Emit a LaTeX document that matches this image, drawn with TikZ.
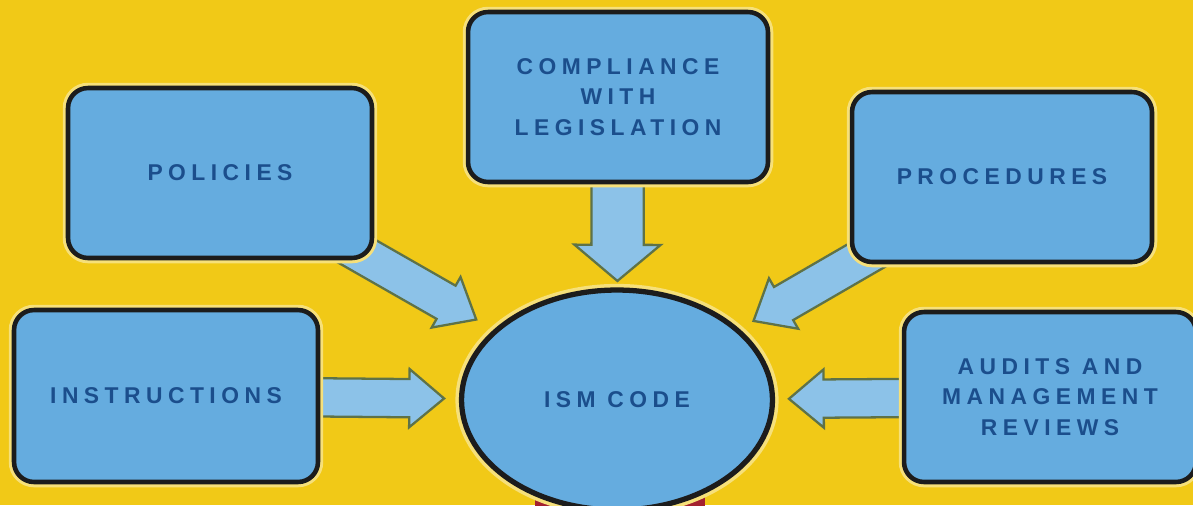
\documentclass[tikz,border=0pt]{standalone}
\usepackage{fontspec}
\usepackage{tikz}
\usetikzlibrary{arrows.meta,positioning,calc,shapes.geometric,shapes.arrows}
\newfontfamily\boxfont[LetterSpace=24]{Liberation Sans}
\definecolor{bgyellow}{HTML}{F1C917}
\definecolor{halo}{HTML}{F6E07A}
\definecolor{boxblue}{HTML}{65ACDF}
\definecolor{inkblue}{HTML}{1B4E8C}
\definecolor{edge}{HTML}{1C1C1C}
\definecolor{arrowfill}{HTML}{8CC2E8}
\definecolor{arrowedge}{HTML}{5E7248}
\definecolor{basered}{HTML}{A3212F}
\pgfdeclarelayer{back}
\pgfsetlayers{back,main}
\tikzset{
  topic/.style={draw=edge,fill=boxblue,line width=2.6pt,rounded corners=0.4cm,
    preaction={draw=halo,line width=6pt},
    minimum width=6cm,minimum height=3.4cm,align=center,text=inkblue,
    font=\boxfont\bfseries\fontsize{13}{17.5}\selectfont},
  core/.style={ellipse,draw=edge,fill=boxblue,line width=3pt,
    preaction={draw=halo,line width=7pt},
    minimum width=6.22cm,minimum height=4.4cm,align=center,text=inkblue,
    font=\boxfont\bfseries\fontsize{13}{17.5}\selectfont},
  barrow/.style={single arrow,draw=arrowedge,fill=arrowfill,line width=1.3pt,
    inner sep=0pt,minimum width=0pt,single arrow head extend=0.2cm,
    single arrow tip angle=80,text height=0.72cm,text depth=0pt,
    anchor=tail,sloped,allow upside down}
}

\begin{document}
\begin{tikzpicture}[x=0.02cm,y=-0.02cm]
  \useasboundingbox (0,0) rectangle (1193,505);
  \begin{pgfonlayer}{back}
    \fill[bgyellow] (0,0) rectangle (1193,505);
    \fill[basered] (535,488) rectangle (705,510);
  \end{pgfonlayer}
  % the five sources round the code
  \node[topic] (comp) at (618,97) {COMPLIANCE\\WITH\\LEGISLATION};
  \node[topic,minimum width=6.08cm] (pol) at (220,173) {POLICIES};
  \node[topic] (proc) at (1002,177) {PROCEDURES};
  \node[topic,minimum width=6.08cm,minimum height=3.44cm] (ins) at (166,396) {INSTRUCTIONS};
  \node[topic,minimum width=5.84cm] (aud) at (1050,397) {AUDITS AND\\MANAGEMENT\\REVIEWS};
  \node[core] (ism) at (617,400) {ISM CODE};
  % block arrows into the ellipse
  \begin{pgfonlayer}{back}
    \path (comp.center) -- (ism.center)
      node[barrow,pos=0.28,minimum height=1.96cm,text height=1.0cm,
        single arrow head extend=0.34cm,single arrow tip angle=100] (a1) {};
    \path (pol.center) -- (ism.center)
      node[barrow,pos=0.315,minimum height=3.0cm] (a2) {};
    \path (proc.center) -- (ism.center)
      node[barrow,pos=0.317,minimum height=2.9cm] (a3) {};
    \path (ins.center) -- (ism.center)
      node[barrow,pos=0.337,minimum height=2.5cm] (a4) {};
    \path (aud.center) -- (ism.center)
      node[barrow,pos=0.337,minimum height=2.28cm] (a5) {};
  \end{pgfonlayer}
\end{tikzpicture}
\end{document}
